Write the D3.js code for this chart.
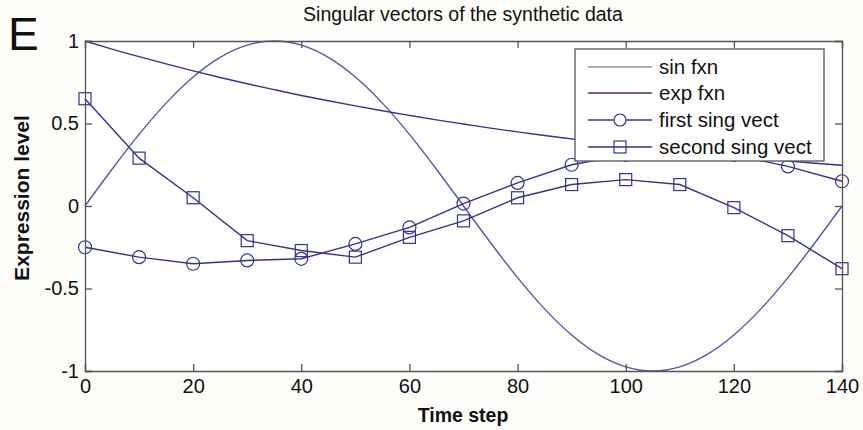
<!DOCTYPE html>
<html>
<head>
<meta charset="utf-8">
<script src="https://cdn.jsdelivr.net/npm/d3@7"></script>
<style>
  html, body { margin: 0; padding: 0; background: #fdfdfa; }
  svg { display: block; }
  text { font-family: "Liberation Sans", Arial, Helvetica, sans-serif; fill: #111; }
</style>
</head>
<body>
<svg id="chart" width="863" height="430"></svg>
<script>
// ---- data ----
const fineSteps = [0,5,10,15,20,25,30,35,40,45,50,55,60,65,70,75,80,85,90,95,100,105,110,115,120,125,130,135,140];
const sinValues = [0,0.2225,0.4339,0.6235,0.7818,0.9010,0.9749,1,0.9749,0.9010,0.7818,0.6235,0.4339,0.2225,0,
  -0.2225,-0.4339,-0.6235,-0.7818,-0.9010,-0.9749,-1,-0.9749,-0.9010,-0.7818,-0.6235,-0.4339,-0.2225,0];
const expValues = [1,0.951,0.905,0.861,0.819,0.779,0.741,0.705,0.670,0.638,0.607,0.577,0.549,0.522,0.497,
  0.472,0.449,0.427,0.407,0.387,0.368,0.350,0.333,0.317,0.301,0.287,0.273,0.259,0.247];
const markerSteps = [0,10,20,30,40,50,60,70,80,90,100,110,120,130,140];
const firstSingVect = [-0.25,-0.31,-0.35,-0.33,-0.32,-0.23,-0.13,0.015,0.14,0.25,0.31,0.33,0.31,0.24,0.15];
const secondSingVect = [0.65,0.29,0.05,-0.21,-0.27,-0.31,-0.19,-0.09,0.05,0.13,0.16,0.13,-0.01,-0.18,-0.38];
const xTicks = [0,20,40,60,80,100,120,140];
const yTicks = [-1,-0.5,0,0.5,1];
const legendLabels = ["sin fxn","exp fxn","first sing vect","second sing vect"];

// ---- layout ----
const svg = d3.select("#chart");
const L = 85, R = 842, T = 41, B = 371;
const x = d3.scaleLinear().domain([0,140]).range([L,R]);
const y = d3.scaleLinear().domain([-1,1]).range([B,T]);
const navy = "#33338f";
const sinColor = "#5656aa";

// plot background
svg.append("rect").attr("x",L).attr("y",T).attr("width",R-L).attr("height",B-T).attr("fill","#ffffff");

// clip
svg.append("clipPath").attr("id","clip").append("rect")
  .attr("x",L-10).attr("y",T-10).attr("width",R-L+20).attr("height",B-T+20);

const g = svg.append("g").attr("clip-path","url(#clip)");

const lineFine = (vals) => d3.line().x((d,i)=>x(fineSteps[i])).y(d=>y(d)).curve(d3.curveNatural)(vals);
const lineMark = (vals) => d3.line().x((d,i)=>x(markerSteps[i])).y(d=>y(d))(vals);

g.append("path").attr("d", lineFine(sinValues)).attr("fill","none").attr("stroke",sinColor).attr("stroke-width",1.4);
g.append("path").attr("d", lineFine(expValues)).attr("fill","none").attr("stroke",navy).attr("stroke-width",1.4);

g.append("path").attr("d", lineMark(firstSingVect)).attr("fill","none").attr("stroke",navy).attr("stroke-width",1.4);
g.selectAll("circle.m1").data(firstSingVect).enter().append("circle")
  .attr("cx",(d,i)=>x(markerSteps[i])).attr("cy",d=>y(d)).attr("r",6.5)
  .attr("fill","none").attr("stroke",navy).attr("stroke-width",1.2);

g.append("path").attr("d", lineMark(secondSingVect)).attr("fill","none").attr("stroke",navy).attr("stroke-width",1.4);
g.selectAll("rect.m2").data(secondSingVect).enter().append("rect")
  .attr("x",(d,i)=>x(markerSteps[i])-6).attr("y",d=>y(d)-6).attr("width",12).attr("height",12)
  .attr("fill","none").attr("stroke",navy).attr("stroke-width",1.2);

// ---- axes ----
const axisColor = "#555";
const tickLen = 7;
const xb = svg.append("g").attr("transform",`translate(0,${B})`)
  .call(d3.axisBottom(x).tickValues(xTicks).tickSize(-tickLen).tickPadding(8).tickFormat(d3.format("d")));
const xt = svg.append("g").attr("transform",`translate(0,${T})`)
  .call(d3.axisTop(x).tickValues(xTicks).tickSize(-tickLen).tickFormat(""));
const yl = svg.append("g").attr("transform",`translate(${L},0)`)
  .call(d3.axisLeft(y).tickValues(yTicks).tickSize(-tickLen).tickPadding(6).tickFormat(d=>String(d)));
const yr = svg.append("g").attr("transform",`translate(${R},0)`)
  .call(d3.axisRight(y).tickValues(yTicks).tickSize(-tickLen).tickFormat(""));
[xb,xt,yl,yr].forEach(a=>{
  a.selectAll("path.domain").attr("stroke",axisColor).attr("stroke-width",1.3);
  a.selectAll(".tick line").attr("stroke",axisColor).attr("stroke-width",1.3);
  a.selectAll(".tick text").attr("font-size",20).attr("fill","#111")
    .attr("font-family","'Liberation Sans', Arial, sans-serif");
});
xb.selectAll(".tick text").attr("dy","0.71em");

// ---- titles ----
svg.append("text").attr("x",463).attr("y",21).attr("text-anchor","middle")
  .attr("font-size",19.5).text("Singular vectors of the synthetic data");
svg.append("text").attr("x",463).attr("y",422).attr("text-anchor","middle")
  .attr("font-size",19.5).attr("font-weight","bold").text("Time step");
svg.append("text").attr("transform",`translate(29,198) rotate(-90)`).attr("text-anchor","middle")
  .attr("font-size",21).attr("font-weight","bold").text("Expression level");
svg.append("text").attr("x",8).attr("y",50).attr("font-size",46).text("E");

// ---- legend ----
const lg = svg.append("g");
lg.append("rect").attr("x",575).attr("y",49).attr("width",249).attr("height",112)
  .attr("fill","#ffffff").attr("stroke","#555").attr("stroke-width",1.3);
const rowY = [67,93,120,147];
const legendColors = ["#8a8acc",navy,navy,navy];
legendLabels.forEach((lab,i)=>{
  lg.append("line").attr("x1",588).attr("x2",652).attr("y1",rowY[i]).attr("y2",rowY[i])
    .attr("stroke",legendColors[i]).attr("stroke-width",1.4);
  if (i===2) lg.append("circle").attr("cx",620).attr("cy",rowY[i]).attr("r",6)
    .attr("fill","#fff").attr("stroke",navy).attr("stroke-width",1.2);
  if (i===3) lg.append("rect").attr("x",614).attr("y",rowY[i]-6).attr("width",12).attr("height",12)
    .attr("fill","none").attr("stroke",navy).attr("stroke-width",1.2);
  lg.append("text").attr("x",659).attr("y",rowY[i]).attr("dy","0.35em")
    .attr("font-size",20.5).text(lab);
});
</script>
</body>
</html>
